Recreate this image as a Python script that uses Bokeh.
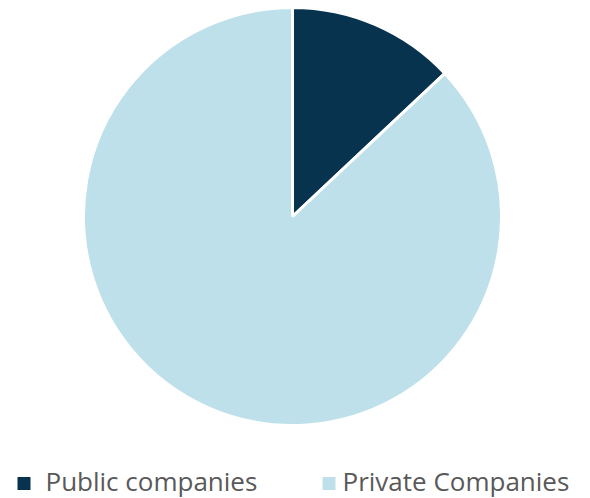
import math
from bokeh.plotting import figure
from bokeh.models import ColumnDataSource, Range1d
from bokeh.core.properties import value
from bokeh.embed import file_html
from bokeh.resources import INLINE

categories = ["Public companies", "Private Companies"]
shares = [13, 87]
colors = ["#08334F", "#BEE0EB"]

W, H = 590, 498
cx, cy = 292, 216
R = 209

p = figure(width=W, height=H, output_backend="svg", toolbar_location=None,
           x_range=Range1d(-cx, W - cx), y_range=Range1d(cy - H, cy),
           min_border=0, outline_line_color=None)
p.axis.visible = False
p.grid.visible = False

total = sum(shares)
starts, ends = [], []
a = math.pi / 2
for s in shares:
    starts.append(a)
    a -= 2 * math.pi * s / total
    ends.append(a)

src = ColumnDataSource(dict(cat=categories, start=starts, end=ends, color=colors))
p.wedge(x=0, y=0, radius=R, start_angle="start", end_angle="end", direction="clock",
        fill_color="color", line_color="white", line_width=3, source=src)

# legend
sq_y = -267
tx_y = -264
sq_x = [-268.5, 36.5]
tx_x = [-247, 50]
leg = ColumnDataSource(dict(sx=sq_x, tx=tx_x, sy=[sq_y, sq_y], ty=[tx_y, tx_y],
                            cat=categories, color=colors))
p.scatter(x="sx", y="sy", marker="square", size=13, fill_color="color", line_color=None, source=leg)
p.text(x="tx", y="ty", text="cat", text_baseline="middle", text_align="left",
       text_font=value("Open Sans"), text_font_size="26px", text_color="#595959", source=leg)

open("out.html", "w").write(file_html(p, INLINE))
